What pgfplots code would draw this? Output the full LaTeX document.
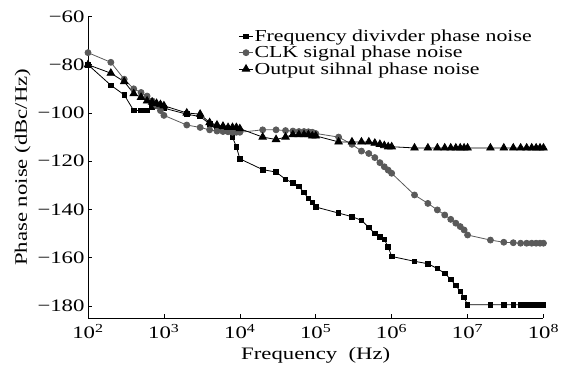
\documentclass[border=0pt]{standalone}
\usepackage{fontspec}
\setmainfont{Liberation Serif}
\usepackage{graphicx}
\usepackage{pgfplots}
\usepackage{pgfplotstable}
\pgfplotsset{compat=1.18}
\newcommand{\sx}[1]{\scalebox{1.3}[1]{#1}}
\definecolor{clk}{HTML}{5A5A5A}

\pgfplotstableread{
f y
1e2 -80
2e2 -88.5
3e2 -92.5
4e2 -99
5e2 -99
6e2 -99
7e2 -97.5
8e2 -97
9e2 -97
1e3 -98
2e3 -100.5
3e3 -101.5
4e3 -104.5
5e3 -106
6e3 -106.5
7e3 -107.5
8e3 -110
9e3 -114
1e4 -119
2e4 -123.5
3e4 -124.5
4e4 -127.5
5e4 -129
6e4 -130.5
7e4 -133
8e4 -135.5
9e4 -137
1e5 -139
2e5 -141.5
3e5 -143
4e5 -144.5
5e5 -147.5
6e5 -150
7e5 -151.5
8e5 -152.5
9e5 -155.5
1e6 -159.5
2e6 -161.5
3e6 -162.5
4e6 -164.5
5e6 -166.5
6e6 -169
7e6 -171.5
8e6 -174
9e6 -176.5
1e7 -179.5
2e7 -179.5
3e7 -179.5
4e7 -179.5
5e7 -179.5
6e7 -179.5
7e7 -179.5
8e7 -179.5
9e7 -179.5
1e8 -179.5
}\divider

\pgfplotstableread{
f y
1e2 -75
2e2 -79
3e2 -86
4e2 -90
5e2 -91.5
6e2 -93
7e2 -95
8e2 -97
9e2 -99
1e3 -101
2e3 -105
3e3 -106
4e3 -107
5e3 -107.5
6e3 -107.7
7e3 -107.8
8e3 -108
9e3 -108
1e4 -108
2e4 -107
3e4 -107
4e4 -107.3
5e4 -107.5
6e4 -107.7
7e4 -107.7
8e4 -107.8
9e4 -108
1e5 -108.5
2e5 -110
3e5 -113
4e5 -115.8
5e5 -116.8
6e5 -118.5
7e5 -120.6
8e5 -122.3
9e5 -123.7
1e6 -125
2e6 -134
3e6 -137.5
4e6 -140.2
5e6 -142.3
6e6 -144.1
7e6 -145.7
8e6 -147.1
9e6 -148.5
1e7 -150.6
2e7 -152.7
3e7 -153.6
4e7 -153.8
5e7 -154
6e7 -154
7e7 -154
8e7 -154
9e7 -154
1e8 -154
}\clk

\pgfplotstableread{
f y
1e2 -80
2e2 -83.5
3e2 -87
4e2 -92
5e2 -93.5
6e2 -95
7e2 -95.5
8e2 -96
9e2 -96.5
1e3 -97
2e3 -100
3e3 -100.5
4e3 -104
5e3 -105
6e3 -105.5
7e3 -106
8e3 -106
9e3 -106
1e4 -106.5
2e4 -110
3e4 -111
4e4 -110
5e4 -109
6e4 -109
7e4 -109
8e4 -109
9e4 -109.5
1e5 -109.5
2e5 -112
3e5 -112
4e5 -112
5e5 -112
6e5 -112.5
7e5 -113
8e5 -113.5
9e5 -114
1e6 -114
2e6 -114.5
3e6 -114.5
4e6 -114.5
5e6 -114.5
6e6 -114.5
7e6 -114.5
8e6 -114.5
9e6 -114.5
1e7 -114.5
2e7 -114.5
3e7 -114.5
4e7 -114.5
5e7 -114.5
6e7 -114.5
7e7 -114.5
8e7 -114.5
9e7 -114.5
1e8 -114.5
}\outp

\begin{document}
\begin{tikzpicture}
\begin{axis}[
  scale only axis, width=455.5pt, height=301.5pt,
  xmode=log, xmin=1e2, xmax=1e8, ymin=-185, ymax=-60,
  axis lines=left, axis line style={-, line width=0.8pt},
  tick align=inside, major tick length=4pt, tick style={line width=0.6pt, black},
  minor tick num=0, xminorticks=false,
  xtick={1e2,1e3,1e4,1e5,1e6,1e7,1e8},
  xticklabels={\sx{10\textsuperscript{2}},\sx{10\textsuperscript{3}},\sx{10\textsuperscript{4}},\sx{10\textsuperscript{5}},\sx{10\textsuperscript{6}},\sx{10\textsuperscript{7}},\sx{10\textsuperscript{8}}},
  ytick={-180,-160,-140,-120,-100,-80,-60},
  yticklabels={\sx{−180},\sx{−160},\sx{−140},\sx{−120},\sx{−100},\sx{−80},\sx{−60}},
  tick label style={font=\fontsize{17.5}{19}\selectfont},
  xticklabel style={yshift=-3pt},
  label style={font=\fontsize{17.5}{19}\selectfont},
  xlabel={\sx{Frequency\ \ (Hz)}},
  xlabel style={yshift=-1pt},
  ylabel={\sx{Phase noise (dBc/Hz)}},
  legend cell align=left,
  legend style={at={(axis description cs:0.33,0.96)}, anchor=north west, draw=none, fill=none,
    font=\fontsize{16.8}{17}\selectfont, row sep=1.2pt, inner sep=0pt,
    nodes={inner sep=1pt}},
  legend image code/.code={\draw[mark repeat=2,mark phase=2] plot coordinates {(0cm,0cm) (0.25cm,0cm) (0.5cm,0cm)};},
]
\addplot[black, line width=0.8pt, mark=square*, mark size=2.3pt] table[x=f,y=y] {\divider};
\addlegendentry{\sx{Frequency divivder phase noise}}
\addplot[clk, line width=0.8pt, mark=*, mark size=3pt, mark options={fill=clk, draw=clk}] table[x=f,y=y] {\clk};
\addlegendentry{\sx{CLK signal phase noise}}
\addplot[black, line width=0.8pt, mark=triangle*, mark size=4.3pt] table[x=f,y=y] {\outp};
\addlegendentry{\sx{Output sihnal phase noise}}
\coordinate (tl) at (axis description cs:-0.1932,1.0547);
\coordinate (br) at (axis description cs:1.0582,-0.1857);
\end{axis}
\pgfresetboundingbox
\useasboundingbox (tl) rectangle (br);
\end{tikzpicture}
\end{document}
